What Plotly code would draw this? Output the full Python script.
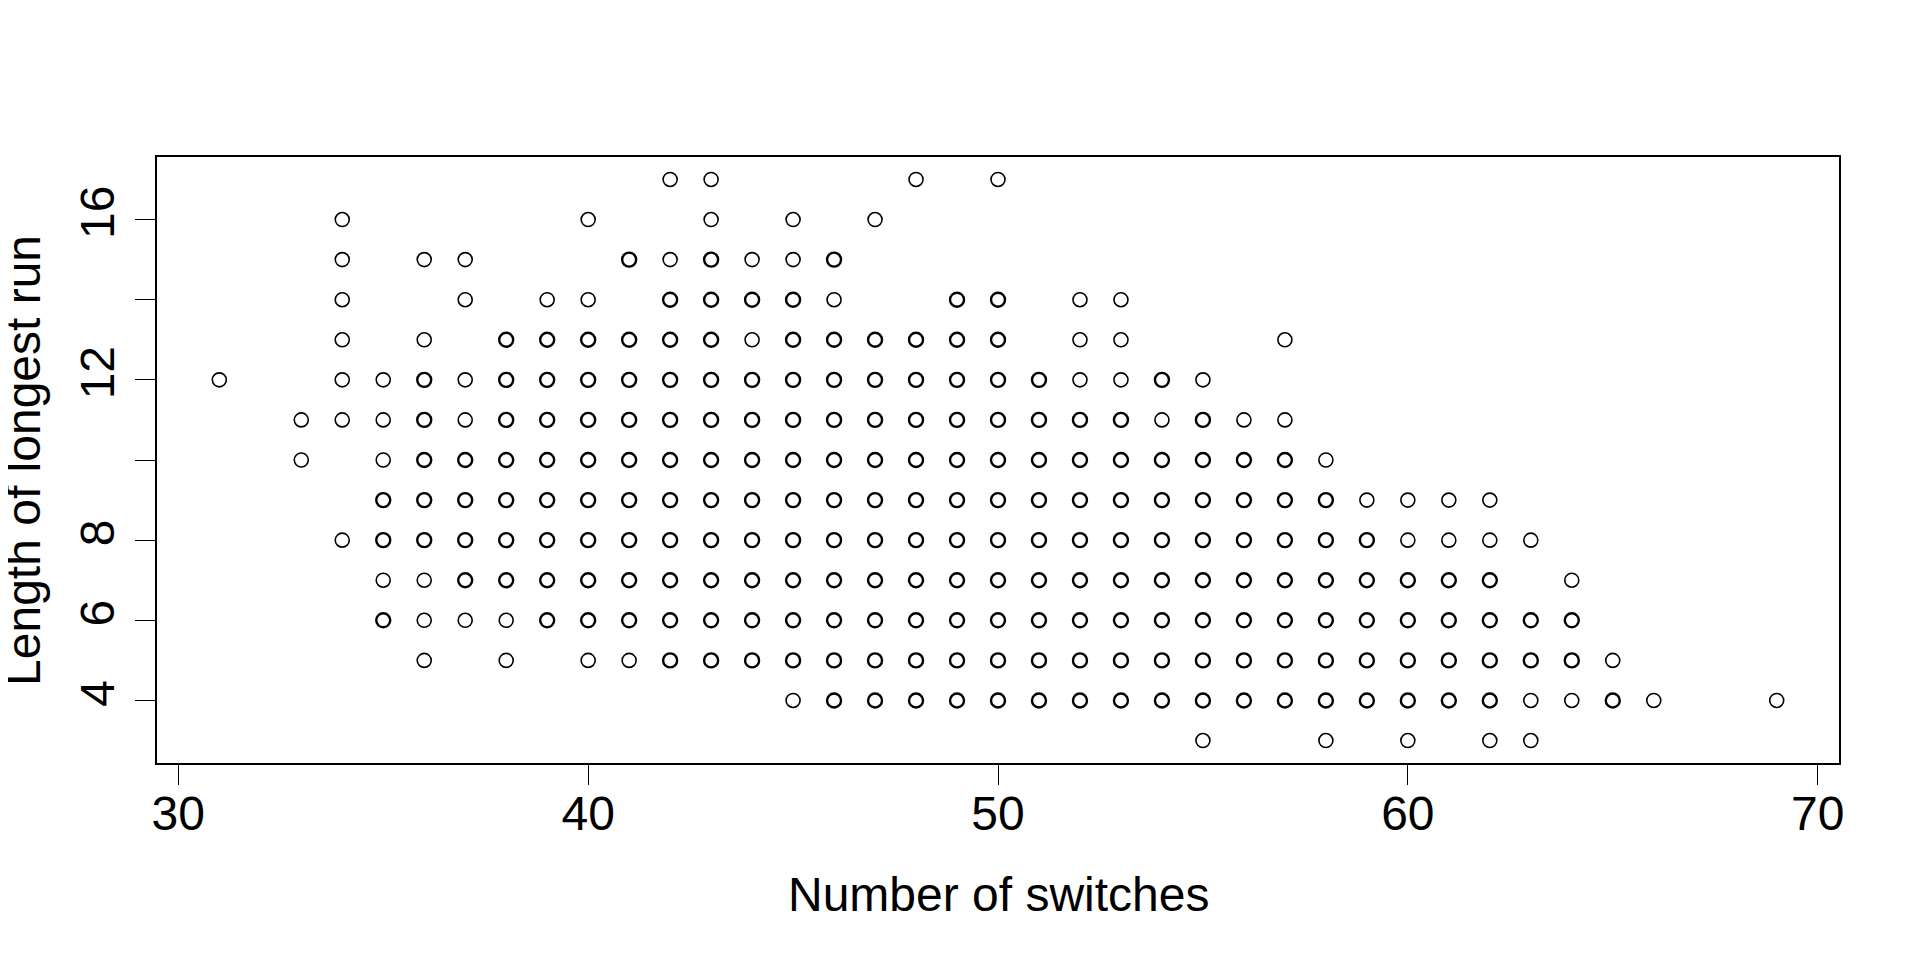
import plotly.graph_objects as go

# number of switches (x) and the run lengths seen at each one (y)
switches = [31, 33, 34, 35, 36, 37, 38, 39, 40, 41, 42, 43, 44, 45, 46, 47, 48, 49, 50,
            51, 52, 53, 54, 55, 56, 57, 58, 59, 60, 61, 62, 63, 64, 65, 66, 69]
runs_by_switch = [
    [12],
    [11, 10],
    [16, 15, 14, 13, 12, 11, 8],
    [12, 11, 10, 9, 8, 7, 6],
    [15, 13, 12, 11, 10, 9, 8, 7, 6, 5],
    [15, 14, 12, 11, 10, 9, 8, 7, 6],
    [13, 12, 11, 10, 9, 8, 7, 6, 5],
    [14, 13, 12, 11, 10, 9, 8, 7, 6],
    [16, 14, 13, 12, 11, 10, 9, 8, 7, 6, 5],
    [15, 13, 12, 11, 10, 9, 8, 7, 6, 5],
    [17, 15, 14, 13, 12, 11, 10, 9, 8, 7, 6, 5],
    [17, 16, 15, 14, 13, 12, 11, 10, 9, 8, 7, 6, 5],
    [15, 14, 13, 12, 11, 10, 9, 8, 7, 6, 5],
    [16, 15, 14, 13, 12, 11, 10, 9, 8, 7, 6, 5, 4],
    [15, 14, 13, 12, 11, 10, 9, 8, 7, 6, 5, 4],
    [16, 13, 12, 11, 10, 9, 8, 7, 6, 5, 4],
    [17, 13, 12, 11, 10, 9, 8, 7, 6, 5, 4],
    [14, 13, 12, 11, 10, 9, 8, 7, 6, 5, 4],
    [17, 14, 13, 12, 11, 10, 9, 8, 7, 6, 5, 4],
    [12, 11, 10, 9, 8, 7, 6, 5, 4],
    [14, 13, 12, 11, 10, 9, 8, 7, 6, 5, 4],
    [14, 13, 12, 11, 10, 9, 8, 7, 6, 5, 4],
    [12, 11, 10, 9, 8, 7, 6, 5, 4],
    [12, 11, 10, 9, 8, 7, 6, 5, 4, 3],
    [11, 10, 9, 8, 7, 6, 5, 4],
    [13, 11, 10, 9, 8, 7, 6, 5, 4],
    [10, 9, 8, 7, 6, 5, 4, 3],
    [9, 8, 7, 6, 5, 4],
    [9, 8, 7, 6, 5, 4, 3],
    [9, 8, 7, 6, 5, 4],
    [9, 8, 7, 6, 5, 4, 3],
    [8, 6, 5, 4, 3],
    [7, 6, 5, 4],
    [5, 4],
    [4],
    [4],
]

# points that look like a single observation (thin ring, not overplotted)
single_points = [
    (31, 12), (33, 11), (33, 10), (34, 16), (34, 15), (34, 14), (34, 13), (34, 12),
    (34, 11), (34, 8), (35, 12), (35, 11), (35, 10), (35, 7), (36, 15), (36, 13),
    (36, 7), (36, 6), (36, 5), (37, 15), (37, 14), (37, 12), (37, 11), (37, 6),
    (38, 6), (38, 5), (39, 14), (40, 16), (40, 14), (40, 5), (41, 5), (42, 17),
    (42, 15), (43, 17), (43, 16), (44, 15), (44, 13), (45, 16), (45, 15), (45, 4),
    (46, 14), (47, 16), (48, 17), (50, 17), (52, 14), (52, 13), (52, 12), (53, 14),
    (53, 13), (53, 12), (55, 12), (54, 11), (56, 11), (57, 11), (57, 13), (58, 10),
    (59, 9), (60, 9), (61, 9), (62, 9), (60, 8), (61, 8), (62, 8), (63, 8),
    (55, 3), (58, 3), (60, 3), (62, 3), (63, 3), (65, 5), (63, 4), (64, 4),
    (66, 4), (69, 4), (64, 7),
]

x_ticks = [30, 40, 50, 60, 70]
y_ticks = [4, 6, 8, 10, 12, 14, 16]
y_ticktext = ["4", "6", "8", "", "12", "", "16"]

singles = set(single_points)
xs_thin, ys_thin, xs_bold, ys_bold = [], [], [], []
for sw, runs in zip(switches, runs_by_switch):
    for r in runs:
        if (sw, r) in singles:
            xs_thin.append(sw)
            ys_thin.append(r)
        else:
            xs_bold.append(sw)
            ys_bold.append(r)

fig = go.Figure()
fig.add_trace(go.Scatter(
    x=xs_thin, y=ys_thin, mode="markers",
    marker=dict(symbol="circle-open", size=14, color="black", line=dict(width=1.6))))
fig.add_trace(go.Scatter(
    x=xs_bold, y=ys_bold, mode="markers",
    marker=dict(symbol="circle-open", size=14, color="black", line=dict(width=2.4))))

font = dict(family="Liberation Sans, Arial", size=48, color="black")

# page body has an 8px margin, so the figure is a bit smaller and shifted
fig.update_layout(
    width=1912, height=952,
    margin=dict(l=149, r=81, t=149, b=197),
    plot_bgcolor="white",
    paper_bgcolor="white",
    showlegend=False,
    font=font,
    xaxis=dict(
        range=[29.48, 70.52], tickvals=x_ticks, ticks="outside", ticklen=20,
        tickwidth=1.3, tickcolor="black", showgrid=False, zeroline=False,
        showline=True, linecolor="black", linewidth=1.5, mirror=True,
        tickfont=font, ticklabelstandoff=-12),
    yaxis=dict(
        range=[2.44, 17.56], tickvals=y_ticks, ticktext=y_ticktext, ticks="outside",
        ticklen=20, tickwidth=1.3, tickcolor="black", showgrid=False, zeroline=False,
        showline=True, linecolor="black", linewidth=1.5, mirror=True,
        tickangle=-90, tickfont=font, ticklabelstandoff=2),
    annotations=[
        dict(text="Number of switches", xref="paper", yref="paper", x=0.5, y=-0.2178,
             xanchor="center", yanchor="middle", showarrow=False, font=font),
        dict(text="Length of longest run", xref="paper", yref="paper", x=-0.0797, y=0.5,
             xanchor="center", yanchor="middle", textangle=-90, showarrow=False, font=font),
    ],
)

fig.write_html("out.html")
